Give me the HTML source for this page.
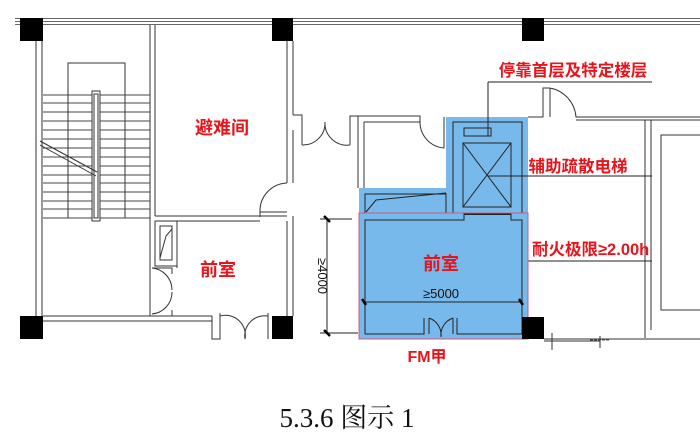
<!DOCTYPE html>
<html><head><meta charset="utf-8"><style>
html,body{margin:0;padding:0;background:#fff;width:700px;height:443px;overflow:hidden}
svg{display:block}
.r{font-family:"Liberation Sans","Noto Sans CJK SC",sans-serif;font-weight:bold;fill:#e8141c}
</style></head><body>
<svg width="700" height="443" viewBox="0 0 700 443" xmlns="http://www.w3.org/2000/svg">
<g fill="none" stroke="#333" stroke-width="1">
<!-- top walls -->
<line x1="15" y1="18.5" x2="700" y2="18.5" stroke-width="0.8"/><line x1="15" y1="21.5" x2="700" y2="21.5" stroke-width="0.8"/><line x1="15" y1="24.5" x2="700" y2="24.5" stroke-width="0.8"/>
<!-- stair left wall -->
<line x1="36" y1="41" x2="36" y2="316"/><line x1="42" y1="41" x2="42" y2="316"/>
<!-- stair -->
<rect x="68" y="63" width="57" height="155"/>
<g stroke="#444">
<line x1="43" y1="95" x2="150" y2="95"/><line x1="43" y1="103" x2="150" y2="103"/><line x1="43" y1="112" x2="150" y2="112"/><line x1="43" y1="121" x2="150" y2="121"/><line x1="43" y1="130" x2="150" y2="130"/><line x1="43" y1="139" x2="150" y2="139"/><line x1="43" y1="148" x2="150" y2="148"/><line x1="43" y1="157" x2="150" y2="157"/><line x1="43" y1="166" x2="150" y2="166"/><line x1="43" y1="175" x2="150" y2="175"/><line x1="43" y1="183" x2="150" y2="183"/><line x1="43" y1="192" x2="150" y2="192"/><line x1="43" y1="201" x2="150" y2="201"/><line x1="43" y1="209" x2="150" y2="209"/><line x1="43" y1="218" x2="150" y2="218"/>
</g>
<rect x="92" y="91" width="8" height="130" fill="#fff"/><rect x="94" y="94" width="4" height="124"/>
<line x1="40" y1="141" x2="97" y2="172"/><line x1="40" y1="145" x2="96" y2="176"/>
<line x1="68" y1="138" x2="68" y2="172"/>
<!-- stair/refuge wall -->
<line x1="150" y1="25" x2="150" y2="316"/><line x1="155" y1="25" x2="155" y2="216"/>
<!-- refuge room -->
<line x1="287" y1="41" x2="287" y2="183"/><line x1="293" y1="41" x2="293" y2="115"/><line x1="293" y1="130" x2="293" y2="183"/>
<line x1="155" y1="216" x2="287" y2="216"/><line x1="155" y1="221" x2="260" y2="221"/>
<path d="M260 212 H287 M260 212 V217 M260 212 A28 28 0 0 1 287 183"/>
<line x1="293" y1="216" x2="293" y2="316"/><line x1="287" y1="221" x2="287" y2="316"/>
<!-- small shaft -->
<rect x="155" y="221" width="22" height="45"/><rect x="160" y="226" width="12" height="34"/><path d="M160 258 L166 236 L172 229"/>
<line x1="177" y1="221" x2="177" y2="268"/>
<!-- door left front room -->
<path d="M152 268 H172 V274 M152 316 H172 V310 M152 268 A22 22 0 0 1 172 290 M152 314 A22 22 0 0 0 172 292"/>
<!-- bottom front room wall -->
<line x1="43" y1="316" x2="212" y2="316"/><line x1="43" y1="321" x2="212" y2="321"/>
<path d="M212 316 V339 H220 V313 M220 316 A20 20 0 0 1 245 339 M268 313 V339 M268 316 A20 20 0 0 0 245 339"/>
<!-- corridor doors -->
<path d="M293 115 H302 V145 M302 145 A22 22 0 0 0 325 122 M350 145 A22 22 0 0 1 325 122 M350 145 V116 H420 V122"/>
<path d="M358 116 V188 M364 122 V188 M364 122 H420 M420 122 A26 26 0 0 0 444 148 M444 148 V117"/>
<!-- right area -->
<path d="M528 117 H543 V88 H550 V117 M550 88 A32 32 0 0 1 576 117 H700 M576 120 H700"/>
<line x1="645" y1="120" x2="645" y2="338"/><line x1="651" y1="120" x2="651" y2="330"/>
<rect x="661" y="135" width="45" height="175"/>
<path d="M544 339 H700 M544 341 H600 M600 336 V348 M552 333 V350"/>
<line x1="590" y1="340" x2="610" y2="340" stroke="#555" stroke-dasharray="3 1"/>
</g>
<!-- blue region -->
<path d="M446 117 H528 V339 H359 V188 H446 Z" fill="#78b9eb"/>
<g fill="none" stroke="#222" stroke-width="1">
<rect x="453" y="122" width="69" height="91"/>
<rect x="464" y="128" width="27" height="8"/>
<rect x="463" y="143" width="48" height="64"/>
<line x1="463" y1="143" x2="511" y2="207"/><line x1="511" y1="143" x2="463" y2="207"/>
<line x1="488" y1="82" x2="488" y2="136"/>
<line x1="488" y1="82" x2="652" y2="82"/>
<line x1="488" y1="176" x2="652" y2="176"/>
<line x1="528" y1="261" x2="652" y2="261"/>
<rect x="365" y="194" width="81" height="19"/><path d="M366 212 L376 200 L446 193"/>
<path d="M365 334 V220 H464 V213 M511 213 V220 H522 V334 M365 334 H424 V318 M457 318 V334 H522"/>
<path d="M429 318 V334 M429 318 A18 18 0 0 1 441 337 M453 318 A18 18 0 0 0 441 337 M453 318 V334"/>
<line x1="464" y1="214" x2="511" y2="214" stroke-width="2"/>
<line x1="364" y1="302" x2="522" y2="302"/>
<line x1="327" y1="219" x2="327" y2="333"/>
<line x1="320" y1="219" x2="352" y2="219"/><line x1="320" y1="333" x2="358" y2="333"/>
</g>
<rect x="359" y="213" width="169" height="126" fill="none" stroke="#d05a78" stroke-width="1"/>
<g stroke="#000" stroke-width="2.5"><line x1="324" y1="216" x2="330" y2="222"/><line x1="324" y1="330" x2="330" y2="336"/><line x1="362" y1="299" x2="366" y2="305"/><line x1="519" y1="299" x2="523" y2="305"/></g>
<!-- columns -->
<g fill="#000"><rect x="20" y="18" width="23" height="23"/><rect x="272" y="18" width="21" height="23"/><rect x="522" y="18" width="22" height="23"/>
<rect x="20" y="316" width="23" height="23"/><rect x="272" y="316" width="21" height="23"/><rect x="522" y="317" width="22" height="22"/></g>
<!-- labels -->
<text class="r" x="222" y="134" font-size="18" text-anchor="middle">避难间</text>
<text class="r" x="218" y="276" font-size="18" text-anchor="middle">前室</text>
<text class="r" x="441" y="270" font-size="18" text-anchor="middle">前室</text>
<text class="r" x="573" y="76" font-size="16.5" text-anchor="middle">停靠首层及特定楼层</text>
<text class="r" x="578" y="172" font-size="16.5" text-anchor="middle">辅助疏散电梯</text>
<text class="r" x="532" y="255" font-size="16.5">耐火极限≥2.00h</text>
<text class="r" x="427" y="362" font-size="16" text-anchor="middle">FM甲</text>
<text x="441" y="298" font-size="13" font-family="Liberation Sans Narrow,Liberation Sans,sans-serif" text-anchor="middle" fill="#111">≥5000</text>
<text x="0" y="0" font-size="13" font-family="Liberation Sans Narrow,Liberation Sans,sans-serif" text-anchor="middle" fill="#111" transform="translate(318,276) rotate(90)">≥4000</text>
<text x="347" y="427" font-size="27" font-family="Liberation Serif,Noto Serif CJK SC,serif" text-anchor="middle" fill="#111">5.3.6 图示 1</text>
</svg>
</body></html>
